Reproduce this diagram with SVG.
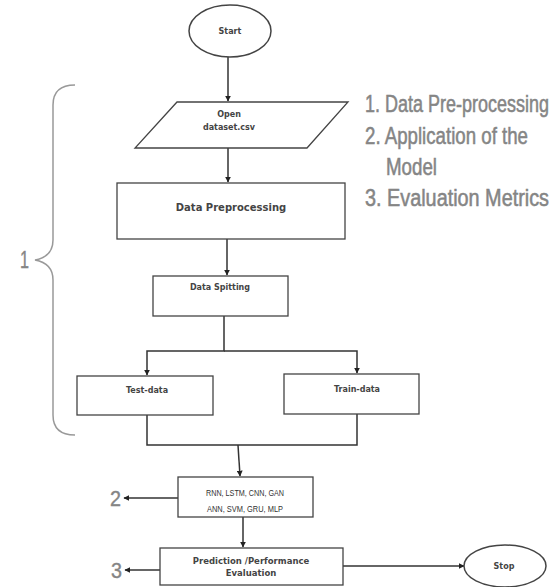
<svg xmlns="http://www.w3.org/2000/svg" width="559" height="587" viewBox="0 0 559 587">
<style>
.box{fill:#fff;stroke:#444;stroke-width:1.3}
.con{fill:none;stroke:#333;stroke-width:1.5}
.t{font-family:"DejaVu Sans",Verdana,sans-serif;font-weight:bold;fill:#444;text-anchor:middle;dominant-baseline:central}
.c{font-family:"Liberation Sans",Arial,sans-serif;fill:#333;text-anchor:middle;dominant-baseline:central}
.g{font-family:"Liberation Sans",Arial,sans-serif;fill:#858585;stroke:#858585;stroke-width:0.4}
.br{fill:none;stroke:#999;stroke-width:1.5}
</style>
<defs>
<marker id="ah" viewBox="0 0 10 10" refX="9" refY="5" markerWidth="6" markerHeight="6" orient="auto" markerUnits="userSpaceOnUse">
<path d="M0,0 L10,5 L0,10 z" fill="#222"/>
</marker>
</defs>
<rect width="559" height="587" fill="#fff"/>

<g id="connectors">
<path class="con" d="M228,57 V101" marker-end="url(#ah)"/>
<path class="con" d="M228,148 V182" marker-end="url(#ah)"/>
<path class="con" d="M227,239 V275" marker-end="url(#ah)"/>
<path class="con" d="M224,316 V351 H147 V375" marker-end="url(#ah)"/>
<path class="con" d="M224,351 H357 V373" marker-end="url(#ah)"/>
<path class="con" d="M147,415 V445 H357 V414"/>
<path class="con" d="M238,445 L240,476" marker-end="url(#ah)"/>
<path class="con" d="M243,517 V547" marker-end="url(#ah)"/>
<path class="con" d="M178,498 H124" marker-end="url(#ah)"/>
<path class="con" d="M160,570 H125" marker-end="url(#ah)"/>
<path class="con" d="M343,566 H464" marker-end="url(#ah)"/>
</g>

<g id="start">
<ellipse cx="230" cy="31" rx="41" ry="26" fill="#fff" stroke="#444" stroke-width="1.5"/>
<text class="t" x="230" y="31" font-size="8">Start</text>
</g>

<g id="open">
<polygon class="box" points="177,102 348,102 307,148 135,148"/>
<text class="t" x="229" y="114" font-size="8">Open</text>
<text class="t" x="229" y="127" font-size="8">dataset.csv</text>
</g>

<g id="preprocessing">
<rect class="box" x="117" y="183" width="228" height="56"/>
<text class="t" x="231" y="207" font-size="10">Data Preprocessing</text>
</g>

<g id="splitting">
<rect class="box" x="153" y="276" width="135" height="40"/>
<text class="t" x="220" y="287" font-size="8">Data Spitting</text>
</g>

<g id="test">
<rect class="box" x="77" y="376" width="136" height="39"/>
<text class="t" x="147" y="390" font-size="8">Test-data</text>
</g>

<g id="train">
<rect class="box" x="284" y="374" width="135" height="40"/>
<text class="t" x="357" y="389" font-size="8">Train-data</text>
</g>

<g id="models">
<rect class="box" x="178" y="477" width="135" height="40"/>
<text class="c" x="245" y="492" font-size="9.5" textLength="78" lengthAdjust="spacingAndGlyphs">RNN, LSTM, CNN, GAN</text>
<text class="c" x="245" y="508" font-size="9.5" textLength="76" lengthAdjust="spacingAndGlyphs">ANN, SVM, GRU, MLP</text>
</g>

<g id="prediction">
<rect class="box" x="160" y="548" width="183" height="37"/>
<text class="t" x="251" y="561" font-size="8.5">Prediction /Performance</text>
<text class="t" x="251" y="573" font-size="8.5">Evaluation</text>
</g>

<g id="stop">
<ellipse cx="505" cy="566" rx="41" ry="21" fill="#fff" stroke="#444" stroke-width="1.5"/>
<text class="t" x="504" y="566" font-size="8">Stop</text>
</g>

<g id="brace">
<path class="br" d="M75,85 C60,85 53,92 53,105 L53,240 C53,252 46,258 35,260 C46,262 53,268 53,280 L53,415 C53,428 60,435 75,435"/>
<text class="g" x="20" y="268" font-size="24" textLength="9" lengthAdjust="spacingAndGlyphs">1</text>
</g>

<g id="labels">
<text class="g" x="110" y="506" font-size="22" textLength="11" lengthAdjust="spacingAndGlyphs">2</text>
<text class="g" x="111" y="578" font-size="22" textLength="11" lengthAdjust="spacingAndGlyphs">3</text>
</g>

<g id="legend">
<text class="g" transform="translate(365,112) scale(1,1.4)" font-size="17.5" textLength="184" lengthAdjust="spacingAndGlyphs">1. Data Pre-processing</text>
<text class="g" transform="translate(365,144) scale(1,1.4)" font-size="17.5" textLength="163" lengthAdjust="spacingAndGlyphs">2. Application of the</text>
<text class="g" transform="translate(386,175) scale(1,1.4)" font-size="17.5" textLength="51" lengthAdjust="spacingAndGlyphs">Model</text>
<text class="g" transform="translate(365,206) scale(1,1.4)" font-size="17.5" textLength="184" lengthAdjust="spacingAndGlyphs">3. Evaluation Metrics</text>
</g>
</svg>
